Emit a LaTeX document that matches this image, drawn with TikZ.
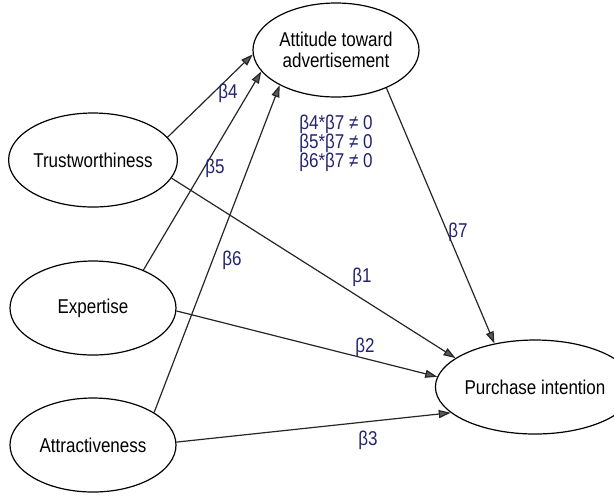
\documentclass[tikz,border=0pt]{standalone}
\usepackage{fontspec}
\setmainfont{Liberation Sans}[FakeStretch=0.85]
\definecolor{betablue}{HTML}{23236E}
\usetikzlibrary{arrows.meta, shapes.geometric}

\begin{document}
\begin{tikzpicture}[x=0.5pt, y=-0.5pt,
    construct/.style={ellipse, draw=black, line width=0.6pt, minimum width=83pt,
      minimum height=47pt, inner sep=0pt, align=center,
      font=\fontsize{10}{10.5}\selectfont},
    effect/.style={-{Triangle[length=6pt, width=4pt, fill=black!65]},
      draw=black!85, line width=0.6pt},
    coef/.style={text=betablue, inner sep=0pt, font=\fontsize{10}{9.5}\selectfont}]
      \useasboundingbox (0,0) rectangle (614,495);
      % Constructs
      \node[construct] (att) at (336,50) {Attitude toward\\advertisement};
      \node[construct] (trust) at (93,160) {Trustworthiness};
      \node[construct] (exp) at (93,308) {Expertise};
      \node[construct] (attr) at (93,445) {Attractiveness};
      \node[construct, minimum width=78pt] (pi) at (535,387) {Purchase intention};
      % Paths
      \draw[effect] (trust.17) -- (att.183);
      \draw[effect] (exp.37) -- (att.196);
      \draw[effect] (attr.28) -- (att.212);
      \draw[effect] (trust.-13) -- (pi.160);
      \draw[effect] (exp.-2) -- (pi.174);
      \draw[effect] (attr.2) -- (pi.197);
      \draw[effect] (att.-37) -- (pi.133);
      % Coefficients
      \node[coef] (b1) at (362,277) {β1};
      \node[coef] (b2) at (365,347) {β2};
      \node[coef] (b3) at (368,440) {β3};
      \node[coef] (b4) at (228,93) {β4};
      \node[coef] (b5) at (215,168) {β5};
      \node[coef] (b6) at (232,260) {β6};
      \node[coef] (b7) at (458,232) {β7};
      \node[coef, align=left] (med) at (336,143) {β4*β7 ≠ 0\\β5*β7 ≠ 0\\β6*β7 ≠ 0};
\end{tikzpicture}
\end{document}
